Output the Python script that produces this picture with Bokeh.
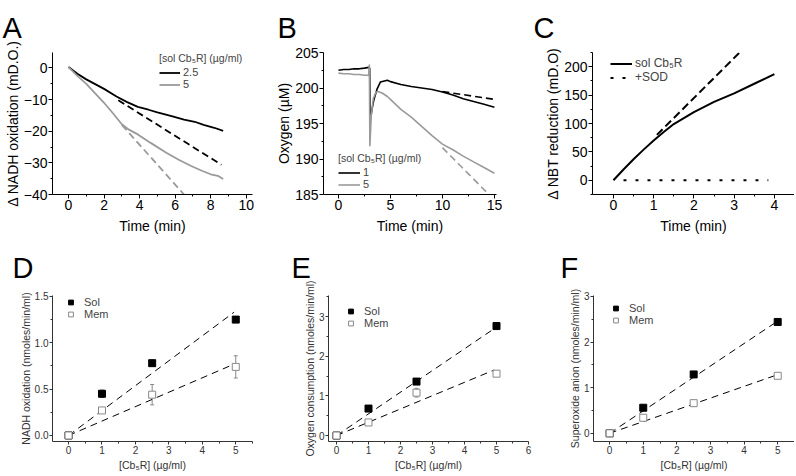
from bokeh.plotting import figure
from bokeh.models import (Range1d, FixedTicker, Legend, LegendItem,
                          ColumnDataSource, Whisker, TeeHead, PrintfTickFormatter)
from bokeh.layouts import row, column
from bokeh.embed import file_html
from bokeh.resources import INLINE

FONT = "Liberation Sans"
GRAY = "#9a9a9a"

# ---------------- data ----------------
# Panel A: NADH oxidation traces
a_t_25 = [0, 0.5, 1, 1.5, 2, 2.7, 3.3, 3.9, 4.5, 5.0, 5.8, 6.5, 7.1, 7.6, 8.2, 8.7]
a_y_25 = [0.3, -1.8, -3.6, -5.1, -6.6, -9.0, -10.8, -12.3, -13.2, -14.0, -15.2, -16.3, -17.0, -18.0, -18.9, -19.9]
a_t_5 = [0, 0.5, 1, 1.5, 2, 2.5, 3.0, 3.4, 3.9, 4.6, 5.5, 6.2, 6.9, 7.5, 8.0, 8.4, 8.7]
a_y_5 = [0.3, -2.5, -5.0, -8.0, -11.0, -14.3, -17.8, -19.5, -21.0, -23.6, -26.8, -29.0, -31.0, -32.5, -33.6, -34.1, -35.1]
a_fit_t_25 = [2.8, 8.6]
a_fit_y_25 = [-10.2, -30.6]
a_fit_t_5 = [3.0, 6.5]
a_fit_y_5 = [-18.0, -40.0]

# Panel B: oxygen traces
b_t_1 = [0, 0.5, 1.0, 1.5, 2.0, 2.5, 2.9, 3.0, 3.05, 3.2, 3.4, 3.7, 4.04, 4.7, 5.0, 6.0, 7.0, 8.0, 9.0, 10.0, 11.0, 12.0, 13.0, 14.0, 15.0]
b_y_1 = [202.5, 202.6, 202.6, 202.7, 202.7, 202.8, 202.9, 202.8, 195.3, 196.8, 198.3, 199.8, 200.85, 201.1, 200.9, 200.5, 200.2, 200.0, 199.8, 199.45, 199.0, 198.5, 198.1, 197.7, 197.3]
b_t_5 = [0, 0.5, 1.0, 1.5, 2.0, 2.5, 2.9, 2.97, 3.02, 3.15, 3.35, 3.6, 3.8, 4.2, 4.7, 5.0, 6.0, 7.0, 8.0, 9.0, 10.0, 11.0, 12.0, 13.0, 14.0, 15.0]
b_y_5 = [202.1, 202.0, 202.0, 201.9, 201.9, 201.8, 201.8, 203.3, 191.8, 196.0, 198.5, 199.4, 199.5, 199.3, 198.8, 198.4, 197.0, 195.9, 194.6, 193.3, 192.1, 191.3, 190.4, 189.6, 188.8, 188.0]
b_fit_t_1 = [10.0, 15.0]
b_fit_y_1 = [199.5, 198.4]
b_fit_t_5 = [10.0, 14.6]
b_fit_y_5 = [191.6, 184.8]

# Panel C: NBT reduction
c_t = [0, 0.25, 0.5, 0.75, 1.0, 1.25, 1.5, 2.0, 2.5, 3.0, 3.5, 4.0]
c_y = [0, 19, 37, 54, 70, 85, 99, 120, 138, 153, 170, 187]
c_fit_t = [1.08, 3.15]
c_fit_y = [80, 226]
c_sod_t = [0.25, 3.85]
c_sod_y = [0, 0]

# Panels D-F: rates vs concentration
conc = [0, 1, 2.5, 5]
d_sol = [0, 0.45, 0.78, 1.25]
d_sol_err = [0, 0.04, 0.02, 0.02]
d_mem = [0, 0.27, 0.44, 0.74]
d_mem_err = [0.01, 0.02, 0.11, 0.12]
d_fit_x = [0, 4.95]
d_fit_sol = [0, 1.33]
d_fit_mem = [0, 0.77]

e_sol = [0, 0.68, 1.36, 2.76]
e_sol_err = [0, 0.03, 0.04, 0.04]
e_mem = [0, 0.33, 1.08, 1.56]
e_mem_err = [0, 0.03, 0.11, 0.03]
e_fit_x = [0, 4.92]
e_fit_sol = [0, 2.69]
e_fit_mem = [0, 1.65]

f_sol = [0, 0.56, 1.29, 2.44]
f_sol_err = [0, 0.03, 0.03, 0.03]
f_mem = [0, 0.34, 0.66, 1.26]
f_mem_err = [0, 0.05, 0.03, 0.03]
f_fit_x = [0, 4.9]
f_fit_sol = [0, 2.41]
f_fit_mem = [0, 1.26]


def make_fig(width, height, left, right, top, bottom, xr, yr, xt, xm, yt, ym,
             xlabel, ylabel, tick_size, label_size, axis_color, tick_color,
             tick_out=4, lab_standoff=5):
    p = figure(width=width, height=height, x_range=Range1d(*xr), y_range=Range1d(*yr),
               output_backend="svg", toolbar_location=None,
               min_border_left=left, min_border_right=right,
               min_border_top=top, min_border_bottom=bottom)
    p.outline_line_color = None
    p.grid.visible = False
    p.background_fill_color = "white"
    p.border_fill_color = "white"
    p.xaxis.ticker = FixedTicker(ticks=xt, minor_ticks=xm)
    p.yaxis.ticker = FixedTicker(ticks=yt, minor_ticks=ym)
    for ax in (p.xaxis[0], p.yaxis[0]):
        ax.axis_line_color = axis_color
        ax.major_tick_line_color = axis_color
        ax.minor_tick_line_color = axis_color
        ax.major_tick_in = 0
        ax.major_tick_out = tick_out
        ax.minor_tick_in = 0
        ax.minor_tick_out = 2
        ax.major_label_text_font = FONT
        ax.major_label_text_font_size = tick_size
        ax.major_label_text_color = tick_color
        ax.axis_label_text_font = FONT
        ax.axis_label_text_font_size = label_size
        ax.axis_label_text_font_style = "normal"
        ax.axis_label_text_color = tick_color
        ax.major_label_standoff = 1
    p.xaxis.axis_label_standoff = lab_standoff
    p.yaxis.axis_label_standoff = 0
    p.xaxis.axis_label = xlabel
    p.yaxis.axis_label = ylabel
    return p


def letter(p, txt, offset, standoff):
    p.title.text = txt
    p.title.text_font = FONT
    p.title.text_font_size = "29px"
    p.title.text_font_style = "normal"
    p.title.text_color = "black"
    p.title.align = "left"
    p.title.vertical_align = "top"
    p.title.offset = offset
    p.title.standoff = standoff


def legend_style(lg, size, gw, gh, standoff, title_size=None):
    lg.border_line_color = None
    lg.background_fill_alpha = 0
    lg.padding = 0
    lg.margin = 0
    lg.spacing = 0
    lg.label_text_font = FONT
    lg.label_text_font_size = size
    lg.label_height = gh
    lg.glyph_height = gh
    lg.glyph_width = gw
    lg.label_standoff = standoff
    lg.title_text_font = FONT
    lg.title_text_font_size = title_size or size
    lg.title_text_font_style = "normal"
    lg.title_standoff = 2


H1 = 245
PULL = 7

# ---------------- Panel A ----------------
pa = make_fig(263, H1, 52, 11, 52 + PULL, 43, (-0.9, 10.35), (-40, 4.9),
              [0, 2, 4, 6, 8, 10], [1, 3, 5, 7, 9],
              [0, -10, -20, -30, -40], [-5, -15, -25, -35],
              "Time (min)", "\u0394 NADH oxidation (mD.O.)", "14px", "14px", "black", "black")
ra1 = pa.line(a_t_25, a_y_25, line_color="black", line_width=1.8)
ra2 = pa.line(a_t_5, a_y_5, line_color=GRAY, line_width=1.8)
pa.line(a_fit_t_25, a_fit_y_25, line_color="black", line_width=1.8, line_dash="7 4")
pa.line(a_fit_t_5, a_fit_y_5, line_color=GRAY, line_width=1.8, line_dash="7 4")
lga = Legend(items=[LegendItem(label="2.5", renderers=[ra1]), LegendItem(label="5", renderers=[ra2])],
             title="[sol Cb\u2085R] (\u00b5g/ml)", location=(107, 104))
legend_style(lga, "11px", 21, 11, 3, "10.5px")
pa.add_layout(lga)
letter(pa, "A", -50, 14)

# ---------------- Panel B ----------------
pb = make_fig(267, H1, 60, 34, 52 + PULL, 43, (-1.44, 15.2), (185, 205),
              [0, 5, 10, 15], [2.5, 7.5, 12.5],
              [185, 190, 195, 200, 205], [187.5, 192.5, 197.5, 202.5],
              "Time (min)", "Oxygen (\u00b5M)", "14px", "14px", "black", "black")
rb1 = pb.line(b_t_1, b_y_1, line_color="black", line_width=1.6)
rb2 = pb.line(b_t_5, b_y_5, line_color=GRAY, line_width=1.6)
pb.line(b_fit_t_1, b_fit_y_1, line_color="black", line_width=1.6, line_dash="7 4")
pb.line(b_fit_t_5, b_fit_y_5, line_color=GRAY, line_width=1.6, line_dash="7 4")
lgb = Legend(items=[LegendItem(label="1", renderers=[rb1]), LegendItem(label="5", renderers=[rb2])],
             title="[sol Cb\u2085R] (\u00b5g/ml)", location=(15, 4))
legend_style(lgb, "11px", 22, 11, 3, "10.5px")
pb.add_layout(lgb)
letter(pb, "B", -46, 14)

# ---------------- Panel C ----------------
pc = make_fig(264, H1, 62, 0, 43 + PULL, 44, (-0.52, 4.5), (-25, 225),
              [0, 1, 2, 3, 4], [0.5, 1.5, 2.5, 3.5, 4.5],
              [0, 50, 100, 150, 200], [-25, 25, 75, 125, 175, 225],
              "Time (min)", "\u0394 NBT reduction (mD.O)", "14px", "14px", "black", "black")
rc1 = pc.line(c_t, c_y, line_color="black", line_width=2)
pc.line(c_fit_t, c_fit_y, line_color="black", line_width=2, line_dash="8 4")
rc2 = pc.line(c_sod_t, c_sod_y, line_color="black", line_width=2, line_dash="3 9")
lgc = Legend(items=[LegendItem(label="sol Cb\u2085R", renderers=[rc1]),
                    LegendItem(label="+SOD", renderers=[rc2])], location=(18, 110))
legend_style(lgc, "12px", 22, 13, 3)
pc.add_layout(lgc)
letter(pc, "C", -59, 14)


# ---------------- Panels D-F ----------------
def rate_panel(width, left, right, xr, yr, xt, xm, yt, ym, ylabel, sol, sol_err, mem, mem_err,
               fit_x, fit_sol, fit_mem, leg_loc, let, let_x, yfmt=None):
    p = make_fig(width, 236, left, right, 57, 33, xr, yr, xt, xm, yt, ym,
                 "[Cb\u2085R] (\u00b5g/ml)", ylabel, "10px", "10.5px", "#333333", "#333333",
                 tick_out=3, lab_standoff=2)
    if yfmt:
        p.yaxis.formatter = PrintfTickFormatter(format=yfmt)
    p.line(fit_x, fit_sol, line_color="black", line_width=1, line_dash="7 5")
    p.line(fit_x, fit_mem, line_color="black", line_width=1, line_dash="7 5")
    src_s = ColumnDataSource(dict(x=conc, y=sol, lo=[a - b for a, b in zip(sol, sol_err)],
                                  hi=[a + b for a, b in zip(sol, sol_err)]))
    src_m = ColumnDataSource(dict(x=conc, y=mem, lo=[a - b for a, b in zip(mem, mem_err)],
                                  hi=[a + b for a, b in zip(mem, mem_err)]))
    for src in (src_s, src_m):
        w = Whisker(source=src, base="x", lower="lo", upper="hi", line_color="#888888", line_width=1,
                    lower_head=TeeHead(size=4, line_color="#888888", line_width=1),
                    upper_head=TeeHead(size=4, line_color="#888888", line_width=1))
        p.add_layout(w)
    rs = p.scatter("x", "y", source=src_s, marker="square", size=7, fill_color="black",
                   line_color="black")
    rm = p.scatter("x", "y", source=src_m, marker="square", size=7, fill_color="white",
                   line_color="#888888", line_width=1)
    lg = Legend(items=[LegendItem(label="Sol", renderers=[rs]), LegendItem(label="Mem", renderers=[rm])],
                location=leg_loc)
    legend_style(lg, "11px", 13, 12, 7)
    p.add_layout(lg)
    letter(p, let, let_x, 20)
    return p


pd = rate_panel(282, 52, 30, (-0.48, 5.5), (-0.065, 1.51), [0, 1, 2, 3, 4, 5],
                [0.5, 1.5, 2.5, 3.5, 4.5, 5.5], [0, 0.5, 1.0, 1.5], [0.25, 0.75, 1.25],
                "NADH oxidation (nmoles/min/ml)", d_sol, d_sol_err, d_mem, d_mem_err,
                d_fit_x, d_fit_sol, d_fit_mem, (12, 121), "D", -40, "%.1f")
pe = rate_panel(266, 46, 20, (-0.25, 6.0), (-0.15, 3.53), [0, 1, 2, 3, 4, 5, 6],
                [0.5, 1.5, 2.5, 3.5, 4.5, 5.5], [0, 1, 2, 3], [0.5, 1.5, 2.5, 3.5],
                "Oxygen consumption (nmoles/min/ml)", e_sol, e_sol_err, e_mem, e_mem_err,
                e_fit_x, e_fit_sol, e_fit_mem, (16, 112), "E", -37)
pf = rate_panel(246, 45, 0, (-0.48, 5.5), (-0.18, 3.02), [0, 1, 2, 3, 4, 5],
                [0.5, 1.5, 2.5, 3.5, 4.5, 5.5], [0, 1, 2, 3], [0.5, 1.5, 2.5],
                "Superoxide anion (nmoles/min/ml)", f_sol, f_sol_err, f_mem, f_mem_err,
                f_fit_x, f_fit_sol, f_fit_mem, (16, 115), "F", -33)

layout = column(row(pa, pb, pc, margin=(-PULL, 0, 0, 0)), row(pd, pe, pf))
open("out.html", "w").write(file_html(layout, INLINE))
